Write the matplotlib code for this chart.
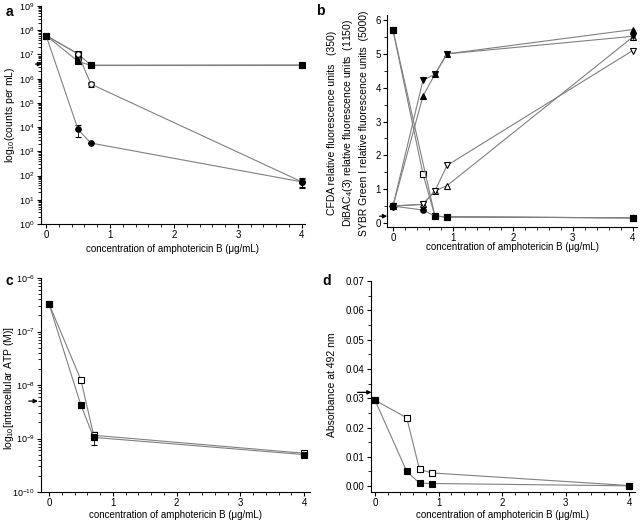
import numpy as np
import matplotlib.pyplot as plt
from matplotlib.ticker import MultipleLocator, LogLocator

plt.rcParams['font.family'] = ['Liberation Sans', 'DejaVu Sans']
plt.rcParams['mathtext.default'] = 'regular'
plt.rcParams['axes.unicode_minus'] = False
plt.rcParams['font.size'] = 7

# panel a - counts per mL
conc_a = [0, 0.5, 0.7, 4]
a_open_circle = [6e7, 1.05e7, 6e5, 55]
a_open_square = [6e7, 1.05e7, 3.6e6, 3.7e6]
a_filled_square = [6e7, 5.2e6, 3.5e6, 3.5e6]
a_filled_circle = [6e7, 8e3, 2.2e3, 55]
a_err_circle = [0, 4e3, 0, 20]

# panel b - fluorescence
conc_b = [0, 0.5, 0.7, 0.9, 4]
b_cfda_open = [5.7, 1.45, 0.2, 0.18, 0.15]
b_cfda_filled = [0.5, 0.38, 0.2, 0.18, 0.15]
b_dibac_up = [0.5, 3.75, 4.4, 5.0, 5.72]
b_dibac_down = [0.5, 4.22, 4.4, 5.0, 5.52]
b_sybr_up = [0.5, 0.55, 0.95, 1.1, 5.5]
b_sybr_down = [0.5, 0.55, 0.95, 1.7, 5.1]

# panel c - ATP
conc_c = [0, 0.5, 0.7, 4]
c_open = [3.3e-7, 1.25e-8, 1.15e-9, 5.3e-10]
c_filled = [3.3e-7, 4.2e-9, 1.05e-9, 5.0e-10]
c_err_filled = [0, 5e-10, 3e-10, 3e-11]

# panel d - absorbance
conc_d = [0, 0.5, 0.7, 0.9, 4]
d_open = [0.0293, 0.0233, 0.0057, 0.0045, 0.0002]
d_filled = [0.0293, 0.005, 0.001, 0.0009, 0.0001]

xlabel = 'concentration of amphotericin B (\u03bcg/mL)'
lc = '#808080'

fig = plt.figure(figsize=(6.41, 5.31), dpi=100)
W, H = 641, 531

def make_ax(l, t, r, b, xlab_y):
    ax = fig.add_axes([l / W, 1 - b / H, (r - l) / W, (b - t) / H])
    ax.spines['top'].set_visible(False)
    ax.spines['right'].set_visible(False)
    ax.tick_params(direction='out', length=3, width=0.8, labelsize=7, pad=1.5)
    ax.tick_params(which='minor', direction='out', length=2, width=0.6)
    ax.set_xticks([0, 1, 2, 3, 4])
    ax.xaxis.set_minor_locator(MultipleLocator(0.2))
    ax.set_xlabel(xlabel, fontsize=7, va='center')
    ax.xaxis.set_label_coords((l + r) / 2 / W, 1 - xlab_y / H, transform=fig.transFigure)
    return ax

def set_ylab(ax, text, x, y, **kw):
    ax.set_ylabel(text, fontsize=7.5, va='center', **kw)
    ax.yaxis.set_label_coords(x / W, 1 - y / H, transform=fig.transFigure)

def series(ax, x, y, marker, fc, yerr=None, ms=4):
    ax.errorbar(x, y, yerr=yerr, color=lc, lw=0.8, marker=marker, ms=ms,
                mfc=fc, mec='black', mew=0.8, ecolor='black', elinewidth=0.6, capsize=2.5)

def arrow(ax, x0, x1, y):
    ax.annotate('', xy=(x1, y), xytext=(x0, y), xycoords='data',
                arrowprops=dict(arrowstyle='-|>', lw=0.9, color='black', mutation_scale=6),
                annotation_clip=False)

# ---- a
ax = make_ax(41, 6, 305, 224, 249)
ax.set_yscale('log')
ax.set_ylim(1, 1e9)
ax.set_xlim(-0.08, 4.05)
ax.yaxis.set_major_locator(LogLocator(base=10, numticks=12))
ax.yaxis.set_minor_locator(LogLocator(base=10, subs=np.arange(2, 10), numticks=12))
ax.tick_params(axis='y', labelsize=6.5)
series(ax, conc_a, a_open_square, 's', 'white')
series(ax, conc_a, a_filled_square, 's', 'black')
series(ax, conc_a, a_open_circle, 'o', 'white', yerr=[0, 2e6, 1.5e5, 25])
series(ax, conc_a, a_filled_circle, 'o', 'black', yerr=a_err_circle)
set_ylab(ax, 'log$_{10}$(counts per mL)', 10, 115)
arrow(ax, -0.21, -0.02, 4e6)
fig.text(6 / W, 1 - 16 / H, 'a', fontsize=10, fontweight='bold')

# ---- b
ax = make_ax(387, 15, 637, 227, 247)
ax.set_ylim(-0.12, 6.15)
ax.set_xlim(-0.1, 4.07)
ax.yaxis.set_major_locator(MultipleLocator(1))
ax.yaxis.set_minor_locator(MultipleLocator(0.5))
series(ax, conc_b, b_cfda_open, 's', 'white')
series(ax, [0, 0.7, 0.9, 4], [5.7, 0.2, 0.18, 0.15], 's', 'black')
series(ax, conc_b, b_cfda_filled, 'o', 'black')
series(ax, conc_b, b_sybr_up, '^', 'white')
series(ax, conc_b, b_sybr_down, 'v', 'white')
series(ax, conc_b, b_dibac_up, '^', 'black')
series(ax, conc_b, b_dibac_down, 'v', 'black')
ax.plot([0], [0.5], marker='D', ms=4, mfc='white', mec='black', mew=0.8, ls='none')
set_ylab(ax, 'CFDA relative fluorescence units   (350)\n'
             'DiBAC$_4$(3) relative fluorescence units  (1150)\n'
             'SYBR Green I relative fluorescence units  (5000)',
         348, 123, linespacing=1.45)
arrow(ax, -0.27, -0.05, 0.2)
fig.text(316 / W, 1 - 15 / H, 'b', fontsize=10, fontweight='bold')

# ---- c
ax = make_ax(41, 278, 310, 492, 515)
ax.set_yscale('log')
ax.set_ylim(1e-10, 1e-6)
ax.set_xlim(-0.125, 4.09)
ax.yaxis.set_minor_locator(LogLocator(base=10, subs=np.arange(2, 10), numticks=12))
ax.tick_params(axis='y', labelsize=6.5)
series(ax, conc_c, c_open, 's', 'white', yerr=[3e-8, 1e-9, 2e-10, 3e-11])
series(ax, conc_c, c_filled, 's', 'black', yerr=c_err_filled)
set_ylab(ax, 'log$_{10}$[intracellular ATP (M)]', 9, 388)
arrow(ax, -0.36, -0.13, 5e-9)
fig.text(6 / W, 1 - 285 / H, 'c', fontsize=10, fontweight='bold')

# ---- d
ax = make_ax(371, 281, 635, 492, 515)
ax.set_ylim(-0.002, 0.07)
ax.set_xlim(-0.063, 4.09)
ax.yaxis.set_major_locator(MultipleLocator(0.01))
ax.yaxis.set_minor_locator(MultipleLocator(0.005))
ax.yaxis.set_major_formatter(plt.FormatStrFormatter('%.2f'))
series(ax, conc_d, d_open, 's', 'white', yerr=[0.0006, 0.0006, 0.0008, 0.0003, 0.0001])
series(ax, conc_d, d_filled, 's', 'black', yerr=[0, 0.0006, 0, 0, 0])
set_ylab(ax, 'Absorbance at 492 nm', 332, 385)
arrow(ax, -0.32, -0.01, 0.032)
fig.text(322 / W, 1 - 285 / H, 'd', fontsize=10, fontweight='bold')

fig.savefig('out.png', dpi=100)
